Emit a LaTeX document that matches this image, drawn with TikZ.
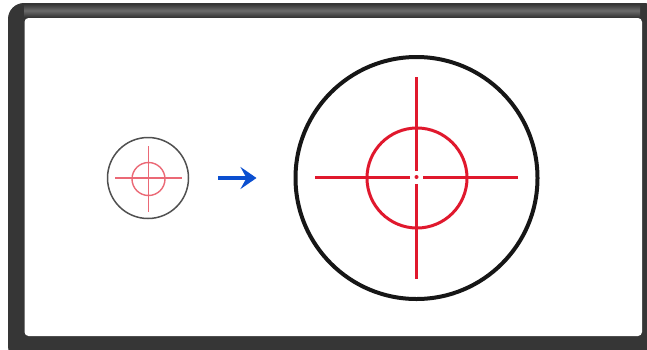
\documentclass[tikz,border=0pt]{standalone}
\usetikzlibrary{arrows.meta,positioning}
\definecolor{scopeink}{HTML}{161616}
\definecolor{scopered}{HTML}{E0182D}
\definecolor{scopeblue}{HTML}{0B4FD0}
\definecolor{framegray}{HTML}{363636}
\tikzset{
  lens/.style={circle, draw=scopeink, inner sep=0pt},
  reticle/.style={draw=scopered, line width=3pt},
  smallret/.style={draw=scopered!65, line width=1.4pt},
  arr/.style={-{Stealth[length=16pt, width=22pt, inset=6pt]}, line width=3.8pt, color=scopeblue},
}
\begin{document}
\begin{tikzpicture}[x=1pt, y=-1pt]
    \useasboundingbox (0,0) rectangle (647,349);
    % frame
    \fill[framegray, rounded corners=16pt] (8,3) rectangle (660,362);
    \shade[top color=framegray, bottom color=framegray, middle color=black!58] (24,4) rectangle (640,17);
    \fill[white, rounded corners=4pt] (24.5,18) rectangle (642,336);
    % small scope
    \node[lens, line width=1.5pt, draw=scopeink!75, minimum size=81pt] (small) at (148,178) {};
    \node[circle, smallret, minimum size=33pt, inner sep=0pt] (smallin) at (148.5,179) {};
    \coordinate (sl) at (115,178);
    \coordinate (sr) at (182,178);
    \coordinate (st) at (148.5,146);
    \coordinate (sb) at (148.5,212);
    \draw[smallret] (sl) -- (sr);
    \draw[smallret] (st) -- (sb);
    % big scope
    \node[lens, line width=4pt, minimum size=242pt] (big) at (416.5,178) {};
    \node[circle, reticle, minimum size=100pt, inner sep=0pt] (bigin) at (417,178) {};
    \coordinate (bl) at (315,177);
    \coordinate (blg) at (410,177);
    \coordinate (brg) at (423,177);
    \coordinate (br) at (518,177);
    \coordinate (bt) at (416.5,77);
    \coordinate (btg) at (416.5,171);
    \coordinate (bbg) at (416.5,184);
    \coordinate (bb) at (416.5,279);
    \draw[reticle] (bl) -- (blg);
    \draw[reticle] (brg) -- (br);
    \draw[reticle] (bt) -- (btg);
    \draw[reticle] (bbg) -- (bb);
    \node[circle, fill=scopered, minimum size=4pt, inner sep=0pt] (dot) at (416.5,177) {};
    % zoom arrow
    \draw[arr, shorten <=29pt, shorten >=37pt] (small.east) -- (big.west);
\end{tikzpicture}
\end{document}
